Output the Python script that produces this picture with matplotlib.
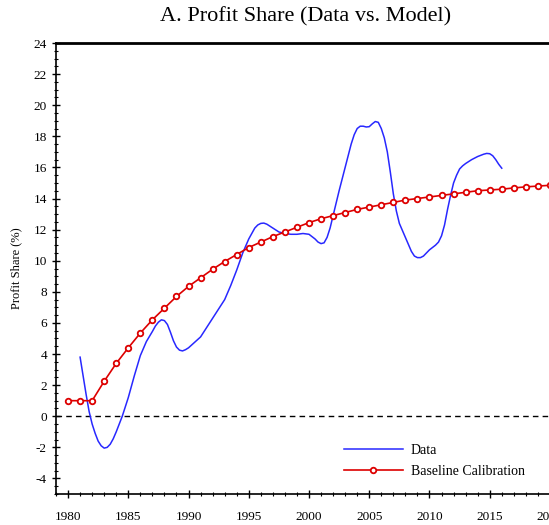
import matplotlib
matplotlib.use("Agg")
import matplotlib.pyplot as plt
from matplotlib.ticker import MultipleLocator

plt.rcParams['font.family'] = ['Liberation Serif', 'DejaVu Serif']
plt.rcParams['axes.unicode_minus'] = False

# data series
dataYears = [1981.0, 1981.25, 1981.5, 1981.75, 1982.0, 1982.25, 1982.5, 1982.75,
             1983.0, 1983.25, 1983.5, 1983.75, 1984.0, 1984.25, 1984.5, 1984.75,
             1985.0, 1985.5, 1986.0, 1986.5, 1987.0, 1987.25, 1987.5, 1987.75,
             1988.0, 1988.25, 1988.5, 1988.75, 1989.0, 1989.25, 1989.5, 1989.75,
             1990.0, 1990.5, 1991.0, 1991.5, 1992.0, 1992.5, 1993.0, 1993.5,
             1994.0, 1994.5, 1995.0, 1995.5, 1995.75, 1996.0, 1996.25, 1996.5,
             1997.0, 1997.5, 1998.0, 1998.5, 1999.0, 1999.5, 2000.0, 2000.5,
             2000.75, 2001.0, 2001.25, 2001.5, 2001.75, 2002.0, 2002.5, 2003.0,
             2003.5, 2003.75, 2004.0, 2004.25, 2004.5, 2004.75, 2005.0, 2005.25,
             2005.5, 2005.75, 2006.0, 2006.25, 2006.5, 2006.75, 2007.0, 2007.25,
             2007.5, 2008.0, 2008.5, 2008.75, 2009.0, 2009.25, 2009.5, 2010.0,
             2010.5, 2010.75, 2011.0, 2011.25, 2011.5, 2011.75, 2012.0, 2012.25,
             2012.5, 2012.75, 2013.0, 2013.5, 2014.0, 2014.5, 2014.75, 2015.0,
             2015.25, 2015.5, 2015.75, 2016.0]
dataShare = [3.8, 2.6, 1.4, 0.3, -0.5, -1.1, -1.6, -1.9,
             -2.05, -2.0, -1.8, -1.45, -1.0, -0.5, 0.0, 0.6,
             1.2, 2.6, 3.9, 4.8, 5.45, 5.8, 6.05, 6.2,
             6.15, 5.9, 5.4, 4.85, 4.45, 4.25, 4.2, 4.28,
             4.4, 4.75, 5.1, 5.7, 6.3, 6.9, 7.5, 8.4,
             9.4, 10.5, 11.4, 12.1, 12.3, 12.4, 12.42, 12.35,
             12.1, 11.85, 11.75, 11.7, 11.7, 11.75, 11.7, 11.4,
             11.2, 11.1, 11.15, 11.5, 12.1, 12.9, 14.5, 16.0,
             17.5, 18.1, 18.5, 18.65, 18.65, 18.6, 18.62, 18.8,
             18.95, 18.9, 18.5, 17.9, 17.0, 15.7, 14.3, 13.2,
             12.4, 11.5, 10.6, 10.3, 10.2, 10.2, 10.3, 10.7,
             11.0, 11.2, 11.6, 12.3, 13.3, 14.2, 15.0, 15.5,
             15.9, 16.1, 16.25, 16.5, 16.7, 16.85, 16.9, 16.88,
             16.75, 16.5, 16.2, 15.95]

# model (baseline calibration), yearly
modelYears = list(range(1980, 2022))
modelShare = [1.0, 1.0, 1.0, 2.25, 3.4, 4.4, 5.35, 6.2, 6.95, 7.7,
              8.35, 8.9, 9.45, 9.95, 10.4, 10.85, 11.2, 11.55, 11.85, 12.15,
              12.45, 12.7, 12.9, 13.1, 13.3, 13.45, 13.6, 13.75, 13.9, 14.0,
              14.1, 14.2, 14.3, 14.4, 14.5, 14.55, 14.6, 14.68, 14.75, 14.8,
              14.85, 14.9]

fig = plt.figure(figsize=(5.49, 5.25), dpi=100)
ax = fig.add_axes([56 / 549, 31 / 525, 506 / 549, 451 / 525])

ax.axhline(0, color="black", linestyle=(0, (4, 3)), linewidth=1.0)
ax.plot(dataYears, dataShare, color="#2828ff", linewidth=1.1, label="Data")
ax.plot(modelYears, modelShare, color="#dd0000", linewidth=1.2, marker="o",
        markersize=4, markerfacecolor="white", markeredgecolor="#dd0000",
        markeredgewidth=1.3, label="Baseline Calibration")

ax.set_xlim(1979, 2021)
ax.set_ylim(-5, 24)
ax.xaxis.set_major_locator(MultipleLocator(5))
ax.xaxis.set_minor_locator(MultipleLocator(1))
ax.yaxis.set_major_locator(MultipleLocator(2))
ax.yaxis.set_minor_locator(MultipleLocator(0.5))
ax.tick_params(which="major", direction="inout", length=6, width=1.0,
               labelsize=9.5)
ax.tick_params(which="minor", direction="inout", length=3, width=0.8)
ax.tick_params(axis="x", which="major", pad=9)

for side in ["left", "bottom"]:
    ax.spines[side].set_linewidth(1.2)
ax.spines["top"].set_linewidth(2.0)
ax.spines["right"].set_visible(False)

ax.set_ylabel("Profit Share (%)", fontsize=9, labelpad=8)
ax.legend(loc="lower left", bbox_to_anchor=(0.545, 0.008), frameon=False,
          fontsize=10, numpoints=1, handlelength=4.2, handletextpad=0.6,
          labelspacing=0.6)

fig.text(306 / 549, 1 - 17 / 525, "A. Profit Share (Data vs. Model)",
         fontsize=16, ha="center", va="center")

fig.savefig("out.png", dpi=100)
